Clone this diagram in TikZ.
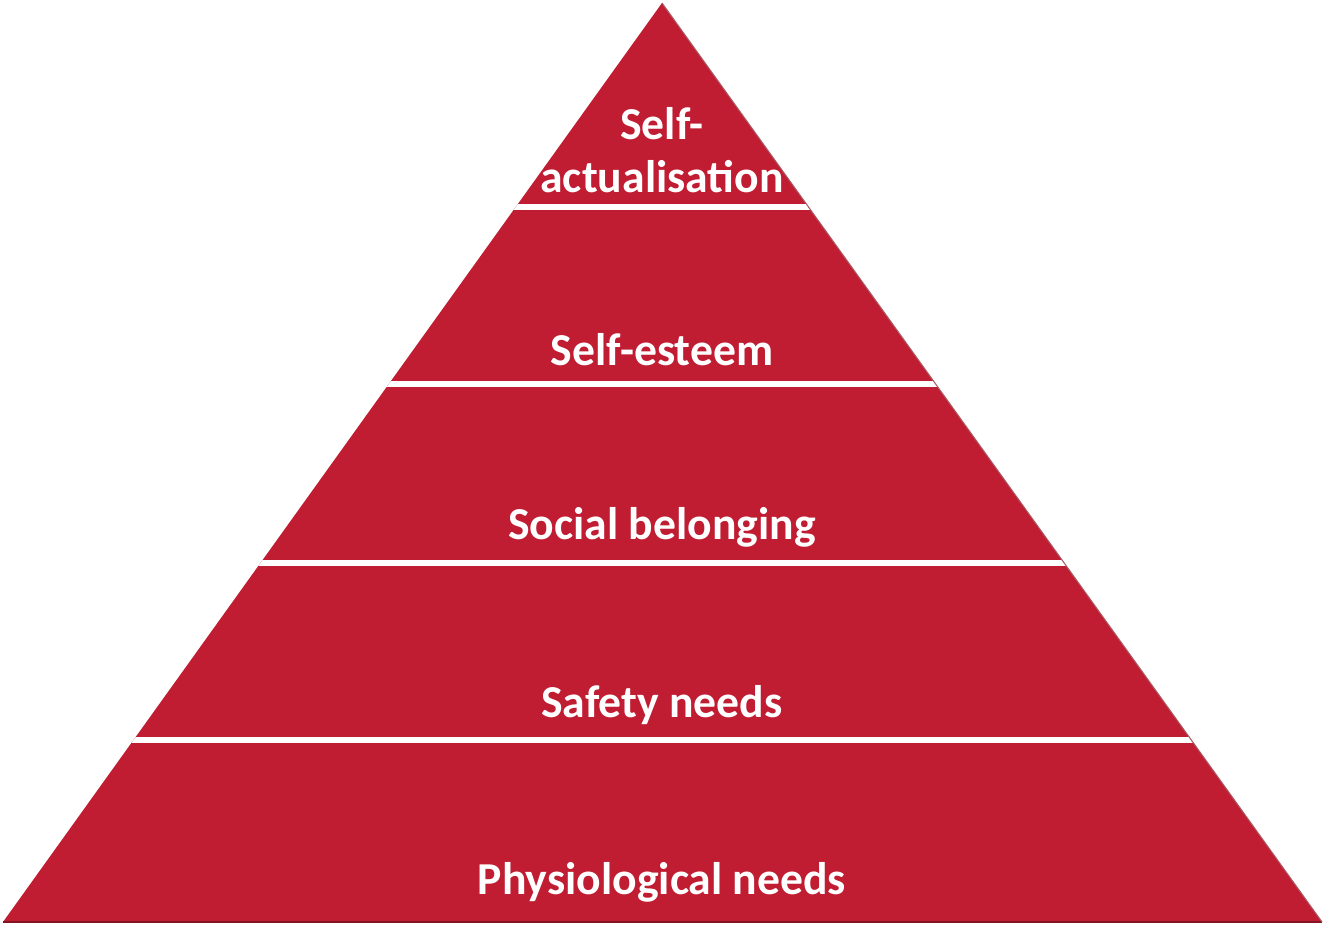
\documentclass[tikz,border=0pt]{standalone}
\usepackage{fontspec}
\setmainfont{Carlito}
\usetikzlibrary{calc}
\definecolor{pyrred}{RGB}{192, 28, 50}
\definecolor{pyredge}{RGB}{130, 20, 35}
\tikzset{
  level/.style={text=white, font=\fontsize{26}{30}\selectfont\bfseries, align=center, inner sep=0pt},
  gap/.style={white, line width=3.4pt}
}
\begin{document}
\begin{tikzpicture}[x=0.02cm, y=-0.02cm]
  \useasboundingbox[fill=white] (0, 0) rectangle (1325, 935);

  \coordinate (apex) at (662, 3);
  \coordinate (left) at (3, 922);
  \coordinate (right) at (1322, 922);

  \fill[pyrred] (apex) -- (right) -- (left) -- cycle;
  \begin{scope}
    \clip (apex) -- (right) -- (left) -- cycle;
    \foreach \y in {207, 384, 563, 740} {
      \draw[gap] (0, \y) -- (1325, \y);
    }
  \end{scope}
  \draw[pyredge, line width=1pt] (left) -- (right);
  \draw[pyredge!70, line width=0.6pt] (apex) -- (right);

  \node[level] (selfact) at (662, 150) {Self-\\actualisation};
  \node[level] (esteem) at (662, 350) {Self-esteem};
  \node[level] (social) at (662, 527) {Social belonging};
  \node[level] (safety) at (662, 705) {Safety needs};
  \node[level] (physio) at (662, 882) {Physiological needs};
\end{tikzpicture}
\end{document}
